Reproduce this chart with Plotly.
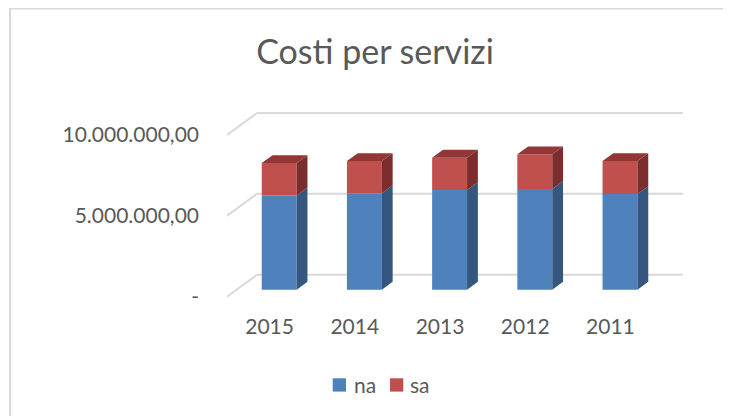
import plotly.graph_objects as go

# ---- data ----
years = ["2015", "2014", "2013", "2012", "2011"]
na = [5830000, 5960000, 6160000, 6220000, 5910000]
sa = [2000000, 1990000, 2000000, 2150000, 2040000]
y_ticks = [0, 5000000, 10000000]
series_names = ["na", "sa"]


def fmt_it(v):
    if v == 0:
        return "-"
    s = f"{v:,.2f}"
    return s.replace(",", "X").replace(".", ",").replace("X", ".")


# ---- pseudo-3D geometry (oblique projection) ----
DX = 0.352          # full depth, x units
DY = 1.36e6         # full depth, y units
F0, F1 = 0.32, 0.68  # bar depth span (fraction of full depth)
W = 0.41            # bar width
ddx = (F1 - F0) * DX
ddy = (F1 - F0) * DY

cats = list(range(len(years)))
front_x = [c + F0 * DX for c in cats]

BLUE, BLUE_SIDE = "#4F81BD", "#35567E"
RED, RED_SIDE, RED_TOP = "#C0504D", "#7B2E2D", "#923735"
COLORS = [BLUE, RED]
GRID = "#D9D9D9"
TXT = "#595959"
FONT = "Lato"

bottoms_na = [F0 * DY for _ in cats]
tops_na = [b + v for b, v in zip(bottoms_na, na)]
bottoms_sa = tops_na
tops_sa = [b + v for b, v in zip(bottoms_sa, sa)]


def side_poly(bots, tops):
    xs, ys = [], []
    for fx, b, t in zip(front_x, bots, tops):
        xr = fx + W / 2
        xs += [xr, xr + ddx, xr + ddx, xr, xr, None]
        ys += [b, b + ddy, t + ddy, t, b, None]
    return xs, ys


def top_poly(tops):
    xs, ys = [], []
    for fx, t in zip(front_x, tops):
        xl, xr = fx - W / 2, fx + W / 2
        xs += [xl, xr, xr + ddx, xl + ddx, xl, None]
        ys += [t, t, t + ddy, t + ddy, t, None]
    return xs, ys


fig = go.Figure()

fig.add_trace(go.Bar(x=front_x, y=na, base=bottoms_na, width=W, name=series_names[0],
                     marker=dict(color=BLUE, line=dict(width=0)), hoverinfo="skip",
                     showlegend=False))
fig.add_trace(go.Bar(x=front_x, y=sa, base=bottoms_sa, width=W, name=series_names[1],
                     marker=dict(color=RED, line=dict(width=0)), hoverinfo="skip",
                     showlegend=False))

sx, sy = side_poly(bottoms_na, tops_na)
fig.add_trace(go.Scatter(x=sx, y=sy, fill="toself", fillcolor=BLUE_SIDE, mode="lines",
                         line=dict(width=0, color=BLUE_SIDE), showlegend=False, hoverinfo="skip"))
sx, sy = side_poly(bottoms_sa, tops_sa)
fig.add_trace(go.Scatter(x=sx, y=sy, fill="toself", fillcolor=RED_SIDE, mode="lines",
                         line=dict(width=0, color=RED_SIDE), showlegend=False, hoverinfo="skip"))
tx, ty = top_poly(tops_sa)
fig.add_trace(go.Scatter(x=tx, y=ty, fill="toself", fillcolor=RED_TOP, mode="lines",
                         line=dict(width=0, color=RED_TOP), showlegend=False, hoverinfo="skip"))

# back wall gridlines + floor diagonals (drawn below the bars)
x_left = cats[0] - 0.5
x_right = cats[-1] + 0.5
for v in y_ticks:
    fig.add_shape(type="line", xref="x", yref="y", x0=x_left + DX, x1=x_right + DX,
                  y0=v + DY, y1=v + DY, line=dict(color=GRID, width=2), layer="below")
    fig.add_shape(type="line", xref="x", yref="y", x0=x_left, x1=x_left + DX,
                  y0=v, y1=v + DY, line=dict(color=GRID, width=2), layer="below")

# layout in pixels (page body has an 8px offset)
ML, MR, MT, MB = 214, 52, 94, 122
PW, PH = 731 - ML - MR, 416 - MT - MB


def px(x):
    return (x - ML) / PW


def py(y):
    return (MT + PH - y) / PH


# chart border
fig.add_shape(type="rect", xref="paper", yref="paper",
              x0=px(2), x1=px(760), y0=py(450), y1=py(0.5),
              line=dict(color=GRID, width=2), layer="below")

# legend (custom, Excel-like spacing)
leg_sq = [(324.7, 370.3), (382.0, 370.3)]
leg_tx = [344, 400]
for (sx0, sy0), tx0, name, col in zip(leg_sq, leg_tx, series_names, COLORS):
    fig.add_shape(type="rect", xref="paper", yref="paper",
                  x0=px(sx0), x1=px(sx0 + 13.3), y0=py(sy0 + 13.3), y1=py(sy0),
                  fillcolor=col, line=dict(width=0))
    fig.add_annotation(text=name, xref="paper", yref="paper", x=px(tx0), y=py(376),
                       xanchor="left", yanchor="middle", showarrow=False,
                       font=dict(family=FONT, size=21, color=TXT))

fig.update_layout(
    width=731, height=416,
    margin=dict(l=ML, r=MR, t=MT, b=MB, autoexpand=False),
    paper_bgcolor="white", plot_bgcolor="white",
    barmode="overlay",
    title=dict(text="Costi per servizi", x=367 / 731, xanchor="center",
               y=1 - 44 / 416, yanchor="middle", yref="container",
               font=dict(family=FONT, size=34, color=TXT)),
    xaxis=dict(range=[-0.5587, 4.899], tickvals=cats, ticktext=years,
               showgrid=False, zeroline=False, showline=False, ticks="",
               ticklabelstandoff=10,
               tickfont=dict(family=FONT, size=21, color=TXT)),
    yaxis=dict(range=[-0.328e6, 12.041e6], tickvals=y_ticks,
               ticktext=[fmt_it(v) for v in y_ticks],
               showgrid=False, zeroline=False, showline=False, ticks="",
               ticklabelstandoff=22,
               tickfont=dict(family=FONT, size=21, color=TXT)),
    showlegend=False,
)

fig.write_html("out.html")
